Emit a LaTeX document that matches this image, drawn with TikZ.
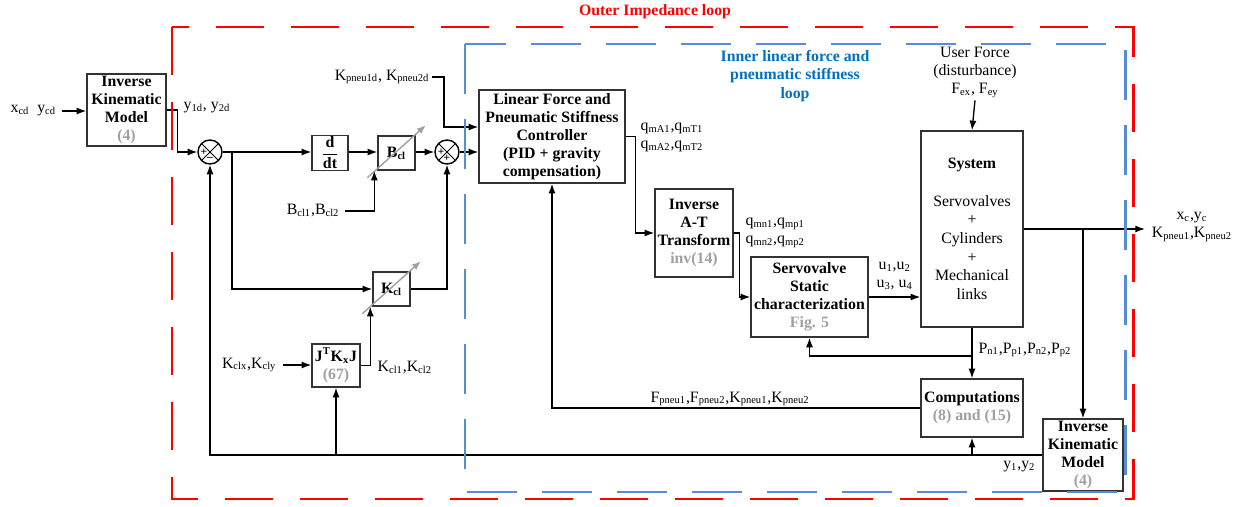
\documentclass[tikz,border=0pt]{standalone}
\usepackage{fontspec}
\setmainfont{Liberation Serif}
\usetikzlibrary{arrows.meta}
\definecolor{loopred}{RGB}{255,0,0}
\definecolor{loopblue}{RGB}{84,141,212}
\definecolor{textblue}{RGB}{0,112,192}
\definecolor{refgray}{RGB}{160,160,160}
\tikzset{
  blk/.style={draw=black!80,line width=0.8pt,align=center,inner sep=0pt,
    font=\fontsize{9}{10.3}\selectfont\bfseries},
  sumnode/.style={draw,circle,line width=0.8pt,minimum size=0.48cm,inner sep=0pt,
    path picture={\draw[line width=0.6pt]
      (path picture bounding box.north west) -- (path picture bounding box.south east)
      (path picture bounding box.north east) -- (path picture bounding box.south west);}},
  lbl/.style={font=\fontsize{9}{10.3}\selectfont,inner sep=0pt,align=center},
  sgn/.style={font=\fontsize{6.5}{6.5}\selectfont\bfseries,inner sep=0pt},
  gainarrow/.style={draw=refgray,line width=0.8pt,-{Latex[length=5pt,width=4pt]}}
}
\begin{document}
\begin{tikzpicture}[x=0.02cm,y=-0.02cm,line width=0.75pt,
  >={Latex[length=5.5pt,width=4pt]}]
\useasboundingbox (0,0) rectangle (1242,507);

\node[blk,minimum width=1.58cm,minimum height=1.44cm] (ikma) at (126.5,110)
  {Inverse\\Kinematic\\Model\\\textcolor{refgray}{(4)}};
\node[lbl,anchor=west] (xcd) at (10,111) {x\textsubscript{cd}\ \ y\textsubscript{cd}};
\node[lbl,anchor=west] (y1d) at (183,108) {y\textsubscript{1d}, y\textsubscript{2d}};

\node[sumnode] (sum1) at (210,152) {};
\node[sgn] at ([xshift=-0.12cm]sum1.center) {+};
\node[sgn] at ([yshift=-0.13cm]sum1.center) {--};
\node[sumnode] (sum2) at (447,152) {};
\node[sgn] at ([xshift=-0.12cm]sum2.center) {+};
\node[sgn] at ([yshift=-0.12cm]sum2.center) {+};

\node[blk,minimum width=0.72cm,minimum height=0.7cm] (ddt) at (330,153)
  {$\displaystyle\frac{\textbf{d}}{\textbf{dt}}$};
\node[blk,minimum width=0.74cm,minimum height=0.68cm] (bcl) at (396.5,153) {B\textsubscript{cl}};
\node[blk,minimum width=0.74cm,minimum height=0.68cm] (kcl) at (391.5,289) {K\textsubscript{cl}};
\node[blk,minimum width=0.96cm,minimum height=0.86cm] (jkj) at (336,365.5)
  {J\textsuperscript{T}K\textsubscript{x}J\\\textcolor{refgray}{(67)}};
\node[lbl,anchor=east] (bclin) at (340,211) {B\textsubscript{cl1},B\textsubscript{cl2}};
\node[lbl,anchor=east] (kclx) at (277,365) {K\textsubscript{clx},K\textsubscript{cly}};
\node[lbl,anchor=west] (kcl12) at (377,368) {K\textsubscript{cl1},K\textsubscript{cl2}};
\node[lbl,anchor=east] (kpd) at (430,77) {K\textsubscript{pneu1d}, K\textsubscript{pneu2d}};

\node[blk,minimum width=2.92cm,minimum height=1.86cm] (ctrl) at (552,136.5)
  {Linear Force and\\Pneumatic Stiffness\\Controller\\(PID + gravity\\compensation)};
\node[lbl,anchor=west] (qma) at (640,137.5)
  {q\textsubscript{mA1},q\textsubscript{mT1}\\q\textsubscript{mA2},q\textsubscript{mT2}};
\node[blk,minimum width=1.56cm,minimum height=1.76cm] (atinv) at (694,233)
  {Inverse\\A-T\\Transform\\\textcolor{refgray}{inv(14)}};
\node[lbl,anchor=west] (qmn) at (745,233)
  {q\textsubscript{mn1},q\textsubscript{mp1}\\q\textsubscript{mn2},q\textsubscript{mp2}};
\node[blk,minimum width=2.34cm,minimum height=1.6cm] (servo) at (809.5,297)
  {Servovalve\\Static\\characterization\\\textcolor{refgray}{Fig. 5}};
\node[lbl,anchor=west] (u14) at (876,276) {u\textsubscript{1},u\textsubscript{2}\\u\textsubscript{3}, u\textsubscript{4}};

\node[blk,font=\fontsize{9}{10.6}\selectfont,minimum width=2.04cm,minimum height=3.92cm] (sys) at (972,229)
  {\textbf{System}\\[10.6pt]Servovalves\\+\\Cylinders\\+\\Mechanical\\links};
\node[lbl] (usr) at (975,72) {User Force\\(disturbance)\\F\textsubscript{ex}, F\textsubscript{ey}};
\node[lbl] (xcyc) at (1192,227) {x\textsubscript{c},y\textsubscript{c}\\K\textsubscript{pneu1},K\textsubscript{pneu2}};
\node[blk,minimum width=2.04cm,minimum height=1.16cm] (comp) at (972,408)
  {Computations\\\textcolor{refgray}{(8) and (15)}};
\node[lbl,anchor=west] (pn) at (978,350)
  {P\textsubscript{n1},P\textsubscript{p1},P\textsubscript{n2},P\textsubscript{p2}};
\node[lbl] (fpn) at (730,399)
  {F\textsubscript{pneu1},F\textsubscript{pneu2},K\textsubscript{pneu1},K\textsubscript{pneu2}};
\node[blk,minimum width=1.6cm,minimum height=1.44cm] (ikmb) at (1083,455)
  {Inverse\\Kinematic\\Model\\\textcolor{refgray}{(4)}};
\node[lbl,anchor=east] (y12) at (1036,467) {y\textsubscript{1},y\textsubscript{2}};

\coordinate (jn1) at (232,152);
\coordinate (jn3) at (972,356);
\coordinate (out) at (1145,229);

\draw[->] ([xshift=0.1cm]xcd.east) -- (xcd.east -| ikma.west);
\draw[->] (ikma.east) 
  -- ++(11,0) 
  |- (sum1.west);
\draw (sum1.east) -- (jn1);
\draw[->] (jn1) -- (jn1 -| ddt.west);
\draw[->] (ddt.east |- jn1) -- (jn1 -| bcl.west);
\draw[->] (bcl.east |- jn1) -- (sum2.west);
\draw[->] (sum2.east) -- (sum2.east -| ctrl.west);
\draw[->] ([xshift=0.1cm]bclin.east) -| ([xshift=-0.06cm]bcl.south west);
\draw[->] (jn1) |- (kcl.west);
\draw[->] (kcl.east) -| (sum2.south);
\draw[->] ([xshift=0.12cm]kclx.east) -- (kclx.east -| jkj.west);
\draw[->] (jkj.east) -| ([xshift=-0.04cm]kcl.south west);
\draw[->] ([xshift=0.04cm]kpd.east) 
  -- ++(12,0) 
  |- ([yshift=0.19cm]ctrl.west);
\draw[->] (ctrl.east) 
  -- ++(10,0) 
  |- (atinv.west);
\draw[->] (atinv.east) 
  -- ++(6,0) 
  |- (servo.west);
\draw[->] (servo.east) -- (servo.east -| sys.west);
\draw[->] ([yshift=-0.05cm]usr.south) -- (sys.north);
\draw[->] (sys.east) -- (out);
\draw[->] (sys.east -| ikmb.north) -- (ikmb.north);
\draw[->] (sys.south) -- (comp.north);
\draw[->] (jn3) -| (servo.south);
\draw[->] (comp.west) -| (ctrl.south);
\draw[->] (ikmb.west) -| (sum1.south);
\draw[->] (ikmb.west -| jkj.south) -- (jkj.south);
\draw[->] (ikmb.west -| comp.south) -- (comp.south);

\draw[gainarrow] ([shift={(-0.2cm,-0.14cm)}]bcl.south west) 
  -- ([shift={(0.2cm,0.2cm)}]bcl.north east);
\draw[gainarrow] ([shift={(-0.2cm,-0.14cm)}]kcl.south west) 
  -- ([shift={(0.2cm,0.2cm)}]kcl.north east);

\draw[loopred,line width=1.7pt,dash pattern=on 0.96cm off 0.54cm] (172,27) rectangle (1133,499);
\draw[loopblue,line width=1.7pt,dash pattern=on 1cm off 0.5cm] (465,44) rectangle (1125,492);
\node[font=\fontsize{9}{10}\selectfont\bfseries,text=loopred] (outt) at (655,12) {Outer Impedance loop};
\node[lbl,font=\fontsize{9}{10.5}\selectfont\bfseries,text=textblue] (innt) at (795,76)
  {Inner linear force and\\pneumatic stiffness\\loop};
\end{tikzpicture}
\end{document}
